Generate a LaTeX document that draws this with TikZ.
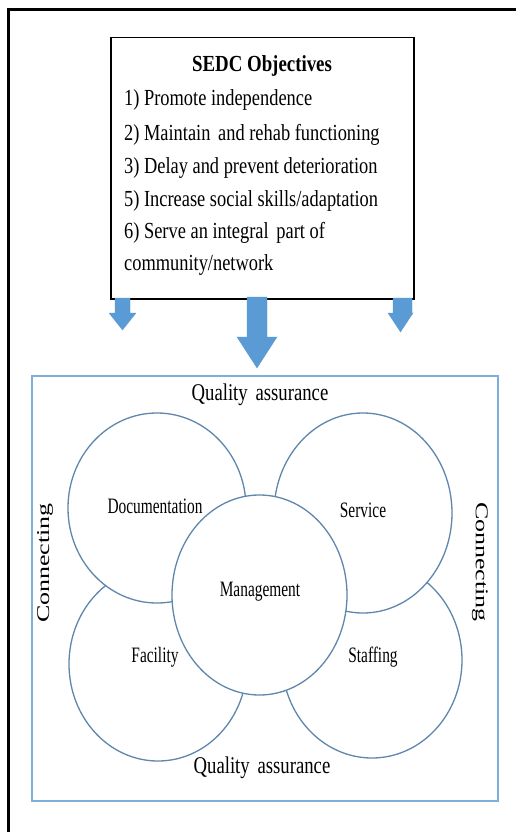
\documentclass[tikz,border=0pt]{standalone}
\usepackage{fontspec}
\usepackage{graphicx}
\setmainfont{Liberation Serif}
\definecolor{arrowblue}{HTML}{5B9BD5}
\definecolor{rectblue}{HTML}{7FAEDD}
\definecolor{ringblue}{HTML}{5F86AC}
\tikzset{
  objtext/.style={font=\fontsize{23}{26}\selectfont, anchor=west, inner sep=0pt, xscale=0.8},
  ring/.style={draw=ringblue, line width=1.3pt, fill=white},
  ringlabel/.style={font=\fontsize{22}{25}\selectfont, inner sep=0pt, xscale=0.7},
  qalabel/.style={font=\fontsize{24}{27}\selectfont, inner sep=0pt, xscale=0.78},
  conlabel/.style={font=\fontsize{20}{24}\selectfont, inner sep=0pt},
  blockarrow/.style={fill=arrowblue, draw=arrowblue, line width=0.3pt}
}
\begin{document}
\begin{tikzpicture}[x=1pt,y=-1pt]
\useasboundingbox (0,0) rectangle (516,832);
\fill[white] (0,0) rectangle (516,832);
% outer frame (only left and top edges visible)
\draw[line width=3pt] (8,832) -- (8,10) -- (516,10);
% objectives box
\node[draw, line width=1.5pt, minimum width=303pt, minimum height=261pt, anchor=north west, inner sep=0pt] (obj) at (110,37) {};
\node[font=\bfseries\fontsize{23}{26}\selectfont, inner sep=0pt, xscale=0.82] (title) at (262,66) {SEDC Objectives};
\node[objtext] (o1) at (124,100) {1) Promote independence};
\node[objtext] (o2) at (124,135) {2) Maintain\, and rehab functioning};
\node[objtext] (o3) at (124,168) {3) Delay and prevent deterioration};
\node[objtext] (o5) at (124,201) {5) Increase social skills/adaptation};
\node[objtext] (o6) at (124,233) {6) Serve an integral\, part of};
\node[objtext] (o7) at (124,265) {community/network};
% block arrows
\fill[blockarrow] (115,298) -- (130,298) -- (130,313) -- (136,313) -- (122.5,330) -- (109,313) -- (115,313) -- cycle;
\fill[blockarrow] (247,297) -- (267,297) -- (267,337) -- (277,337) -- (257,368) -- (237,337) -- (247,337) -- cycle;
\fill[blockarrow] (393,298) -- (412,298) -- (412,313) -- (413,313) -- (400.5,332) -- (388,313) -- (393,313) -- cycle;
% blue frame
\draw[rectblue, line width=1.5pt] (32,376) rectangle (498,801);
% rings
\draw[ring] (158,664) ellipse [x radius=89, y radius=97];
\draw[ring] (372,660) ellipse [x radius=90, y radius=98];
\draw[ring] (157,508) ellipse [x radius=89, y radius=95];
\draw[ring] (363,513) ellipse [x radius=89, y radius=100];
\draw[ring] (259.5,595) ellipse [x radius=87.5, y radius=100];
\node[ringlabel] (doc) at (155,506) {Documentation};
\node[ringlabel] (ser) at (363,510) {Service};
\node[ringlabel] (man) at (260,592) {Management};
\node[ringlabel] (fac) at (155,657) {Facility};
\node[ringlabel] (sta) at (373,657) {Staffing};
\node[qalabel] (qa1) at (260,395) {Quality\, assurance};
\node[qalabel] (qa2) at (262,768) {Quality\, assurance};
\node[conlabel, rotate=90] (con1) at (45,563) {\scalebox{1.3}[0.9]{Connecting}};
\node[conlabel, rotate=-90] (con2) at (480,562) {\scalebox{1.3}[0.9]{Connecting}};
\end{tikzpicture}
\end{document}
